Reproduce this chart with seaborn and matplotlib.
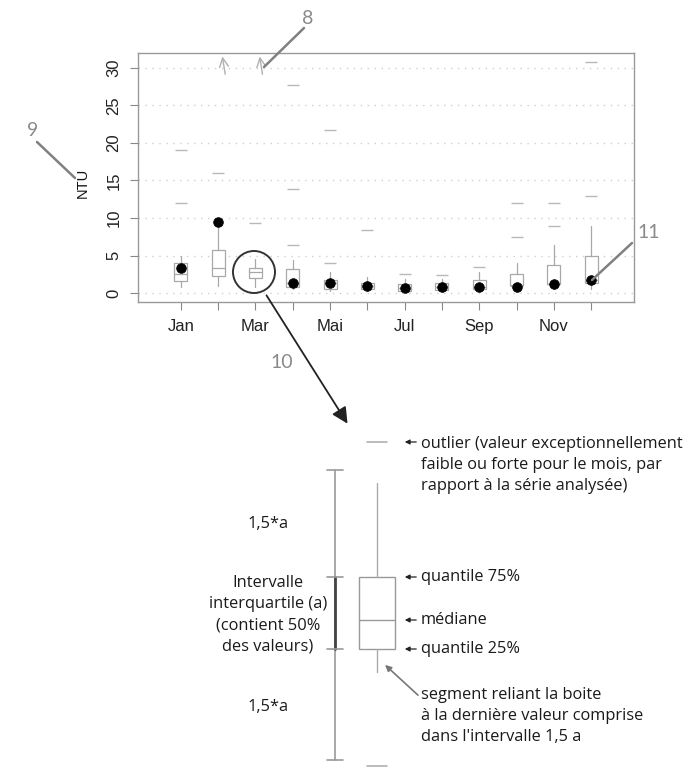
import numpy as np
import pandas as pd
import matplotlib
matplotlib.use("Agg")
import matplotlib.pyplot as plt
import seaborn as sns
from matplotlib.patches import Circle, Rectangle

# --- Données ---
mois = ['Jan', 'Fév', 'Mar', 'Avr', 'Mai', 'Jun', 'Jul', 'Aoû', 'Sep', 'Oct', 'Nov', 'Déc']
etiquettes = ['Jan', '', 'Mar', '', 'Mai', '', 'Jul', '', 'Sep', '', 'Nov', '']
q1 = [1.6, 2.3, 1.95, 0.85, 0.6, 0.5, 0.3, 0.4, 0.55, 1.07, 1.15, 1.4]
mediane = [2.6, 3.4, 2.85, 1.4, 1.3, 0.9, 0.7, 0.85, 0.85, 1.0, 1.2, 1.75]
q3 = [3.96, 5.7, 3.4, 3.2, 1.7, 1.4, 1.15, 1.3, 1.73, 2.5, 3.7, 4.9]
moust_bas = [0.85, 1.0, 0.85, 0.5, 0.3, 0.3, 0.2, 0.2, 0.3, 0.5, 0.5, 0.6]
moust_haut = [4.9, 9.3, 4.5, 4.4, 2.8, 2.2, 1.9, 1.9, 2.8, 4.0, 6.4, 8.9]
outliers = [[12.0, 19.0], [16.0], [9.3], [6.4, 13.9, 27.7], [4.0, 21.7], [8.4],
            [2.5], [2.4], [3.5], [7.4, 12.0], [8.9, 12.0], [12.9, 30.8]]
valeurs_annee = [3.4, 9.4, np.nan, 1.35, 1.3, 0.9, 0.7, 0.85, 0.85, 0.85, 1.15, 1.75]
hors_echelle = ['Fév', 'Mar']  # valeurs au-dessus de 32 NTU

sns.set_theme(style='white')
plt.rcParams['font.family'] = ['Liberation Sans', 'DejaVu Sans']

gris_box = '#a8a8a8'
gris_annot = '#808080'

fig = plt.figure(figsize=(6.96, 7.67), dpi=100)
ax = fig.add_axes([138 / 696, 1 - 302 / 767, 496 / 696, 249 / 767])

# --- Boîtes à moustaches ---
stats = []
for i, m in enumerate(mois):
    stats.append(dict(label=m, q1=q1[i], med=mediane[i], q3=q3[i],
                      whislo=moust_bas[i], whishi=moust_haut[i], fliers=outliers[i]))
pos = np.arange(len(mois))
ax.bxp(stats, positions=pos, widths=0.35, showcaps=False, patch_artist=True,
       boxprops=dict(facecolor='white', edgecolor=gris_box, linewidth=0.9),
       whiskerprops=dict(color=gris_box, linewidth=0.9),
       medianprops=dict(color=gris_box, linewidth=0.9),
       flierprops=dict(marker='_', markeredgecolor='#b8b8b8', markersize=8, markeredgewidth=1))

df = pd.DataFrame({'pos': pos, 'ntu': valeurs_annee}).dropna()
sns.scatterplot(data=df, x='pos', y='ntu', color='black', s=48, edgecolor='black', ax=ax, zorder=5)

# flèches: valeurs hors échelle
for m in hors_echelle:
    i = mois.index(m)
    ax.annotate('', xy=(i + 0.1, 31.9), xytext=(i + 0.2, 28.8),
                arrowprops=dict(arrowstyle='->', color='#b0b0b0', lw=1, mutation_scale=16))

ax.set_xlim(-1.15, 12.15)
ax.set_ylim(-1.2, 32)
ax.set_xticks(pos)
ax.set_xticklabels(etiquettes, fontsize=12, color='#222222')
ax.set_yticks(np.arange(0, 31, 5))
ax.set_yticklabels([str(v) for v in range(0, 31, 5)], fontsize=12, color='#222222',
                   rotation=90, va='center')
ax.tick_params(axis='both', which='both', length=6, color='#888888', width=0.8,
               direction='out', bottom=True, left=True, pad=6)
ax.yaxis.grid(True, linestyle=(0, (1, 4)), color='#cfcfcf', linewidth=1)
ax.set_axisbelow(True)
for s in ax.spines.values():
    s.set_color('#999999')
    s.set_linewidth(1)
ax.set_xlabel('')
ax.set_ylabel('NTU', fontsize=10.5, color='#111111')
ax.yaxis.set_label_coords(-0.097, 0.48)

# --- Calque d'annotations (coordonnées en pixels) ---
ov = fig.add_axes([0, 0, 1, 1], zorder=10)
ov.set_xlim(0, 696)
ov.set_ylim(767, 0)
ov.axis('off')

fnum = dict(fontsize=14, color='#8a8a8a', family=['Lato', 'DejaVu Sans'], ha='center', va='center')
ov.text(308, 18, '8', **fnum)
ov.plot([304, 264], [28, 67], color=gris_annot, lw=1.8)
ov.text(33, 131, '9', **fnum)
ov.plot([37, 75], [142, 178], color=gris_annot, lw=1.8)
ov.text(649, 233, '11', **fnum)
ov.plot([632, 592], [243, 280], color=gris_annot, lw=1.8)
ov.text(282, 363, '10', **fnum)

ov.add_patch(Circle((254, 272), 21, fill=False, edgecolor='#333333', lw=1.4))
ov.annotate('', xy=(349, 426), xytext=(265, 293),
            arrowprops=dict(arrowstyle='-|>', color='#222222', lw=1.3, mutation_scale=24))

# --- Schéma explicatif ---
ov.plot([335, 335], [470, 760], color='#9a9a9a', lw=1.2)
ov.plot([335, 335], [577, 649], color='#444444', lw=2)
for yy in [470, 577, 649, 760]:
    ov.plot([327, 343], [yy, yy], color='#9a9a9a', lw=1.2)

ov.add_patch(Rectangle((359, 577), 36, 72, fill=False, edgecolor='#999999', lw=1))
ov.plot([359, 395], [620, 620], color='#999999', lw=1)
ov.plot([377, 377], [483, 577], color='#aaaaaa', lw=1)
ov.plot([377, 377], [649, 672], color='#aaaaaa', lw=1)
ov.plot([367, 387], [442, 442], color='#b0b0b0', lw=1.2)
ov.plot([367, 387], [766, 766], color='#b0b0b0', lw=1.2)

ftxt = dict(fontsize=11.8, color='#1a1a1a', family=['Open Sans', 'DejaVu Sans'])
ov.text(268, 524, '1,5*a', ha='center', va='center', **ftxt)
ov.text(268, 615, 'Intervalle\ninterquartile (a)\n(contient 50%\ndes valeurs)',
        ha='center', va='center', linespacing=1.42, **ftxt)
ov.text(268, 707, '1,5*a', ha='center', va='center', **ftxt)

for yy in [442, 577, 620, 649]:
    ov.annotate('', xy=(402, yy), xytext=(419, yy),
                arrowprops=dict(arrowstyle='-|>', color='#222222', lw=0.9, mutation_scale=7))

ov.text(421, 465, 'outlier (valeur exceptionnellement\nfaible ou forte pour le mois, par\nrapport à la série analysée)',
        ha='left', va='center', linespacing=1.45, **ftxt)
ov.text(421, 577, 'quantile 75%', ha='left', va='center', **ftxt)
ov.text(421, 620, 'médiane', ha='left', va='center', **ftxt)
ov.text(421, 649, 'quantile 25%', ha='left', va='center', **ftxt)
ov.text(421, 716, "segment reliant la boite\nà la dernière valeur comprise\ndans l'intervalle 1,5 a",
        ha='left', va='center', linespacing=1.42, **ftxt)
ov.annotate('', xy=(383, 663), xytext=(420, 697),
            arrowprops=dict(arrowstyle='-|>', color='#777777', lw=1.2, mutation_scale=9))

fig.savefig('out.png', dpi=100, facecolor='white')
